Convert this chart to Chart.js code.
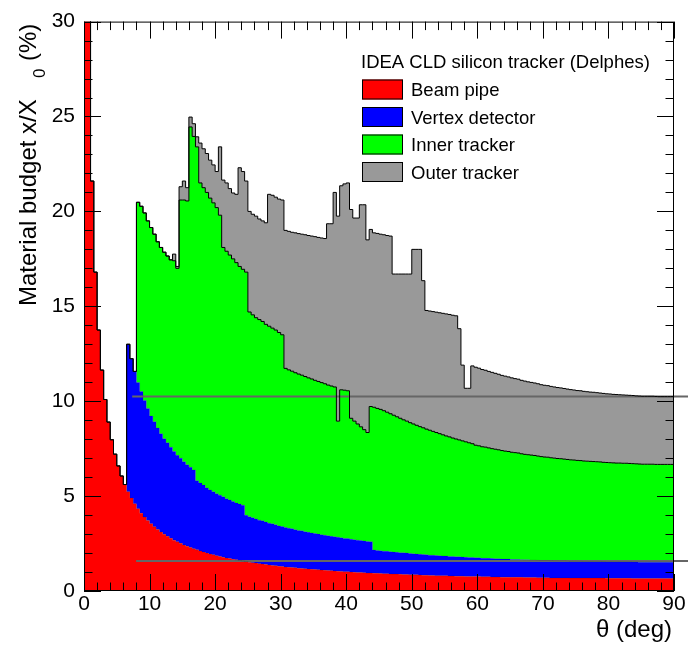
<!DOCTYPE html>
<html>
<head>
<meta charset="utf-8">
<script src="https://cdn.jsdelivr.net/npm/chart.js@4.4.0/dist/chart.umd.min.js"></script>
<style>
  html, body { margin: 0; padding: 0; background: #fff; }
  #wrap { width: 688px; height: 649px; }
</style>
</head>
<body>
<div id="wrap"><canvas id="budgetChart" width="688" height="649"></canvas></div>
<script>
// theta bins are 0.5 deg wide, 0 -> 90 deg, 180 bins
const binWidth = 0.5;

// x/X0 (%) per component, one value per bin
const beamPipe = [
  151.3, 50.4, 30.3, 21.6, 16.8, 13.75, 11.64, 10.09, 8.90, 7.97,
  7.21, 6.59, 6.06, 5.61, 5.23, 4.90, 4.60, 4.34, 4.10, 3.90,
  3.71, 3.54, 3.38, 3.24, 3.11, 2.99, 2.88, 2.78, 2.68, 2.59,
  2.51, 2.43, 2.36, 2.29, 2.23, 2.17, 2.11, 2.06, 2.00, 1.95,
  1.91, 1.86, 1.82, 1.78, 1.74, 1.71, 1.67, 1.64, 1.61, 1.58,
  1.55, 1.52, 1.49, 1.47, 1.44, 1.42, 1.40, 1.37, 1.35, 1.33,
  1.31, 1.29, 1.27, 1.25, 1.24, 1.22, 1.20, 1.19, 1.17, 1.16,
  1.14, 1.13, 1.12, 1.10, 1.09, 1.08, 1.07, 1.05, 1.04, 1.03,
  1.02, 1.01, 1.00, 0.99, 0.98, 0.97, 0.96, 0.95, 0.95, 0.94,
  0.93, 0.92, 0.91, 0.91, 0.90, 0.89, 0.89, 0.88, 0.87, 0.87,
  0.86, 0.85, 0.85, 0.84, 0.83, 0.83, 0.82, 0.82, 0.81, 0.81,
  0.80, 0.80, 0.79, 0.79, 0.78, 0.78, 0.78, 0.77, 0.77, 0.76,
  0.76, 0.76, 0.75, 0.75, 0.75, 0.74, 0.74, 0.74, 0.73, 0.73,
  0.73, 0.72, 0.72, 0.72, 0.72, 0.71, 0.71, 0.71, 0.71, 0.70,
  0.70, 0.70, 0.70, 0.69, 0.69, 0.69, 0.69, 0.69, 0.69, 0.68,
  0.68, 0.68, 0.68, 0.68, 0.68, 0.68, 0.68, 0.68, 0.68, 0.68,
  0.67, 0.67, 0.67, 0.67, 0.67, 0.67, 0.67, 0.67, 0.66, 0.66,
  0.66, 0.66, 0.66, 0.66, 0.66, 0.66, 0.66, 0.66, 0.66, 0.66
];

const vertexDetector = [
  0, 0, 0, 0, 0, 0, 0, 0, 0, 0,
  0, 0, 0, 0, 7.77, 7.34, 6.97, 6.64, 6.41, 6.14,
  5.90, 5.68, 5.54, 5.35, 5.18, 5.03, 4.93, 4.80, 4.67, 4.56,
  4.49, 4.38, 4.29, 4.23, 4.15, 3.64, 3.58, 3.52, 3.43, 3.37,
  3.32, 3.27, 3.23, 3.18, 3.12, 3.08, 3.04, 3.00, 2.97, 2.94,
  2.44, 2.39, 2.37, 2.33, 2.29, 2.28, 2.24, 2.20, 2.19, 2.16,
  2.12, 2.11, 2.08, 2.05, 2.04, 2.01, 1.99, 1.98, 1.95, 1.93,
  1.92, 1.90, 1.88, 1.87, 1.85, 1.83, 1.81, 1.81, 1.79, 1.77,
  1.75, 1.75, 1.73, 1.71, 1.70, 1.69, 1.68, 1.66, 1.65, 1.22,
  1.21, 1.20, 1.19, 1.18, 1.17, 1.16, 1.15, 1.14, 1.14, 1.13,
  1.12, 1.11, 1.10, 1.10, 1.09, 1.08, 1.07, 1.07, 1.06, 1.05,
  1.05, 1.04, 1.03, 1.03, 1.02, 1.02, 1.01, 1.01, 1.00, 1.00,
  0.99, 0.99, 0.98, 0.98, 0.97, 0.97, 0.96, 0.96, 0.95, 0.95,
  0.95, 0.94, 0.94, 0.94, 0.93, 0.93, 0.93, 0.92, 0.92, 0.92,
  0.91, 0.91, 0.91, 0.91, 0.90, 0.90, 0.90, 0.90, 0.89, 0.89,
  0.89, 0.89, 0.89, 0.88, 0.88, 0.88, 0.88, 0.88, 0.88, 0.87,
  0.87, 0.87, 0.87, 0.87, 0.87, 0.87, 0.87, 0.87, 0.87, 0.87,
  0.86, 0.86, 0.86, 0.86, 0.86, 0.86, 0.86, 0.86, 0.86, 0.86
];

const innerTracker = [
  0, 0, 0, 0, 0, 0, 0, 0, 0, 0,
  0, 0, 0, 0, 0, 0, 0, 9.50, 9.76, 9.88,
  9.89, 9.93, 9.88, 9.81, 9.81, 9.83, 9.84, 9.87, 10.05, 9.85,
  13.60, 13.79, 13.90, 17.93, 17.57, 17.59, 15.81, 15.67, 15.57, 15.38,
  15.22, 15.07, 14.75, 13.14, 13.04, 12.91, 12.79, 12.66, 12.52, 12.43,
  12.81, 10.79, 10.69, 10.60, 10.57, 10.50, 10.41, 10.38, 10.31, 10.26,
  10.19, 10.10, 8.38, 8.35, 8.30, 8.27, 8.24, 8.20, 8.18, 8.14,
  8.11, 8.07, 8.04, 8.01, 7.98, 7.94, 7.92, 7.89, 6.12, 7.80,
  7.81, 7.79, 6.37, 6.25, 6.12, 5.99, 5.86, 5.74, 7.12, 7.52,
  7.48, 7.45, 7.40, 7.33, 7.27, 7.21, 7.14, 7.08, 7.01, 6.95,
  6.89, 6.84, 6.78, 6.72, 6.68, 6.62, 6.58, 6.52, 6.48, 6.43,
  6.38, 6.33, 6.30, 6.24, 6.21, 6.16, 6.12, 6.08, 6.04, 6.00,
  5.93, 5.90, 5.87, 5.85, 5.82, 5.79, 5.77, 5.74, 5.72, 5.69,
  5.67, 5.65, 5.63, 5.61, 5.58, 5.56, 5.54, 5.53, 5.51, 5.49,
  5.47, 5.45, 5.44, 5.42, 5.41, 5.39, 5.38, 5.36, 5.35, 5.34,
  5.33, 5.31, 5.30, 5.29, 5.28, 5.27, 5.26, 5.25, 5.24, 5.23,
  5.23, 5.22, 5.21, 5.20, 5.20, 5.19, 5.19, 5.18, 5.18, 5.17,
  5.17, 5.16, 5.16, 5.16, 5.16, 5.15, 5.15, 5.15, 5.15, 5.15
];

const outerTracker = [
  0, 0, 0, 0, 0, 0, 0, 0, 0, 0,
  0, 0, 0, 0, 0, 0, 0, 0, 0, 0,
  0, 0, 0, 0, 0, 0, 0, 0, 0.35, 0.10,
  0.70, 1.00, 0.70, 0.52, 0.67, 0.53, 2.10, 2.05, 2.05, 2.00,
  2.00, 1.90, 3.60, 3.55, 3.60, 3.50, 3.47, 3.60, 5.20, 5.15,
  4.80, 5.30, 5.30, 5.35, 5.30, 5.30, 5.35, 6.95, 7.00, 7.00,
  7.03, 7.10, 7.27, 7.30, 7.32, 7.37, 7.40, 7.43, 7.47, 7.50,
  7.53, 7.57, 7.59, 7.62, 7.65, 8.50, 8.55, 10.25, 10.80, 10.75,
  10.87, 10.95, 11.00, 10.70, 10.85, 11.70, 11.85, 10.15, 9.33, 9.19,
  9.22, 9.23, 9.27, 9.31, 9.36, 7.44, 7.52, 7.60, 7.68, 7.75,
  7.83, 9.20, 9.27, 9.34, 7.75, 6.25, 6.28, 6.31, 6.34, 6.37,
  6.40, 6.43, 6.45, 6.47, 6.49, 5.86, 3.99, 2.82, 2.87, 4.10,
  4.11, 4.09, 4.07, 4.05, 4.03, 4.02, 4.00, 3.98, 3.96, 3.95,
  3.93, 3.92, 3.90, 3.89, 3.87, 3.86, 3.84, 3.83, 3.82, 3.81,
  3.79, 3.78, 3.77, 3.76, 3.75, 3.74, 3.73, 3.72, 3.71, 3.70,
  3.69, 3.68, 3.68, 3.67, 3.66, 3.65, 3.65, 3.64, 3.63, 3.63,
  3.62, 3.62, 3.61, 3.61, 3.60, 3.60, 3.59, 3.59, 3.59, 3.58,
  3.58, 3.58, 3.58, 3.58, 3.58, 3.58, 3.57, 3.57, 3.57, 3.57
];

const seriesNames = ["Beam pipe", "Vertex detector", "Inner tracker", "Outer tracker"];
const seriesColors = ["#ff0000", "#0000ff", "#00ff00", "#999999"];
// outline colour of each stacked layer (lower layers blend into the fill)
const seriesLines = ["rgba(0,0,0,0.15)", "rgba(0,0,0,0.12)", "#000000", "#000000"];
const legendTitle = "IDEA CLD silicon tracker (Delphes)";

// the two grey horizontal lines: start angle and level
const refLineStarts = [7.35, 7.95];
const refLineLevels = [10.25, 1.58];

const xTickLabels = [0, 10, 20, 30, 40, 50, 60, 70, 80, 90];
const yTickLabels = [0, 5, 10, 15, 20, 25, 30];

const fontFamily = "'Liberation Sans', Arial, Helvetica, sans-serif";

function toSteps(values) {
    const pts = values.map((v, i) => ({ x: i * binWidth, y: v }));
    pts.push({ x: values.length * binWidth, y: values[values.length - 1] });
    return pts;
}

const histValues = [beamPipe, vertexDetector, innerTracker, outerTracker];

const datasets = histValues.map((values, i) => ({
    label: seriesNames[i],
    data: toSteps(values),
    stepped: "after",
    fill: i === 0 ? "origin" : "-1",
    backgroundColor: seriesColors[i],
    borderColor: seriesLines[i],
    borderWidth: 1,
    pointRadius: 0,
    tension: 0
}));

refLineLevels.forEach((level, i) => {
    datasets.push({
        label: "ref" + i,
        data: [{ x: refLineStarts[i], y: level }, { x: 93, y: level }],
        stack: "ref" + i,
        fill: false,
        borderColor: "#666666",
        borderWidth: 2,
        pointRadius: 0,
        clip: false
    });
});

const rootStyle = {
    id: "rootStyle",
    afterDatasetsDraw(chart) {
        const { ctx, chartArea: a, scales: { x, y } } = chart;
        ctx.save();
        ctx.strokeStyle = "#000";
        ctx.lineWidth = 1;
        ctx.strokeRect(a.left + 0.5, a.top + 0.5, a.right - a.left - 1, a.bottom - a.top - 1);

        ctx.beginPath();
        for (let v = 0; v <= 90; v += 2) {
            const px = Math.round(x.getPixelForValue(v)) + 0.5;
            const len = v % 10 === 0 ? 17 : 8.5;
            ctx.moveTo(px, a.bottom); ctx.lineTo(px, a.bottom - len);
            ctx.moveTo(px, a.top); ctx.lineTo(px, a.top + len);
        }
        for (let v = 0; v <= 30; v += 1) {
            const py = Math.round(y.getPixelForValue(v)) + 0.5;
            const len = v % 5 === 0 ? 17 : 8.5;
            ctx.moveTo(a.left, py); ctx.lineTo(a.left + len, py);
            ctx.moveTo(a.right, py); ctx.lineTo(a.right - len, py);
        }
        ctx.stroke();
        ctx.restore();
    },
    afterDraw(chart) {
        const { ctx, chartArea: a } = chart;
        ctx.save();
        ctx.fillStyle = "#000";

        // x title
        ctx.font = "24px " + fontFamily;
        ctx.textAlign = "right";
        ctx.textBaseline = "alphabetic";
        ctx.fillText("\u03b8 (deg)", a.right - 2, 637);

        // y title, rotated
        ctx.save();
        ctx.translate(36, 0);
        ctx.rotate(-Math.PI / 2);
        ctx.textAlign = "left";
        ctx.font = "24px " + fontFamily;
        ctx.fillText("Material budget x/X", -306, 0);
        ctx.font = "17px " + fontFamily;
        ctx.fillText("0", -78, 9);
        ctx.font = "24px " + fontFamily;
        ctx.fillText("(%)", -61, 0);
        ctx.restore();

        // legend
        ctx.font = "18.5px " + fontFamily;
        ctx.textAlign = "left";
        ctx.fillText(legendTitle, 361, 68);
        chart.data.datasets.slice(0, 4).forEach((ds, i) => {
            const top = 79.5 + i * 27.5;
            ctx.fillStyle = ds.backgroundColor;
            ctx.fillRect(362, top, 41, 20);
            ctx.strokeStyle = "#000";
            ctx.lineWidth = 1;
            ctx.strokeRect(362.5, top + 0.5, 40, 19);
            ctx.fillStyle = "#000";
            ctx.fillText(ds.label, 411, top + 16.5);
        });
        ctx.restore();
    }
};

new Chart(document.getElementById("budgetChart"), {
    type: "line",
    data: { datasets },
    options: {
        responsive: false,
        animation: false,
        devicePixelRatio: 1,
        layout: { padding: { top: 17, right: 14, left: 0, bottom: 0 } },
        plugins: {
            legend: { display: false },
            tooltip: { enabled: false },
            filler: { drawTime: "beforeDatasetsDraw" }
        },
        scales: {
            x: {
                type: "linear",
                min: 0,
                max: 90,
                afterFit: (s) => { s.height = 58; },
                afterBuildTicks: (s) => { s.ticks = xTickLabels.map(v => ({ value: v })); },
                grid: { display: false, drawTicks: false },
                border: { display: false },
                ticks: { color: "#000", font: { family: fontFamily, size: 21 }, padding: 1, maxRotation: 0 }
            },
            y: {
                stacked: true,
                min: 0,
                max: 30,
                afterFit: (s) => { s.width = 84; },
                afterBuildTicks: (s) => { s.ticks = yTickLabels.map(v => ({ value: v })); },
                grid: { display: false, drawTicks: false },
                border: { display: false },
                ticks: { color: "#000", font: { family: fontFamily, size: 21 }, padding: 9 }
            }
        }
    },
    plugins: [rootStyle]
});
</script>
</body>
</html>
